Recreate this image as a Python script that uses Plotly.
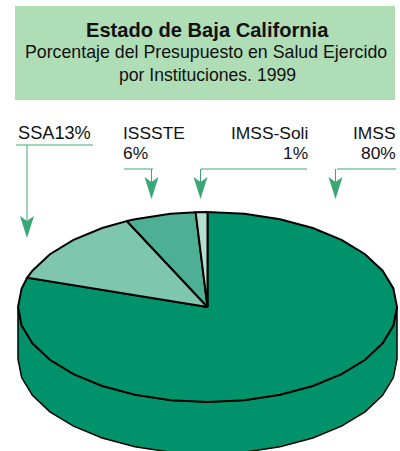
import math
import plotly.graph_objects as go

# Data
categories = ["IMSS", "SSA", "ISSSTE", "IMSS-Soli"]
values = [80, 13, 6, 1]
slice_colors = ["#00936B", "#7FC6AE", "#4DB094", "#B5DED0"]
title_lines = ["Estado de Baja California",
               "Porcentaje del Presupuesto en Salud Ejercido",
               "por Instituciones. 1999"]

# Geometry and style
W, H = 400, 451
CX, CY, RX, RY, DEPTH = 207.5, 307, 189.5, 95, 52
STEP = 11.25
FONT = "Liberation Sans, Arial, sans-serif"
LEADER = "#3AA874"
LABEL_SIZE = 17.4


def pt(t, dy=0):
    r = math.radians(t)
    return CX + RX * math.sin(r), CY - RY * math.cos(r) + dy


def arc(t0, t1, dy=0):
    ts = [t0]
    k = math.floor(t0 / STEP) + 1
    while k * STEP < t1 - 1e-6:
        ts.append(k * STEP)
        k += 1
    ts.append(t1)
    return [pt(t, dy) for t in ts]


fig = go.Figure()


def poly(points, fill, width, close=True):
    xs = [p[0] for p in points]
    ys = [p[1] for p in points]
    if close:
        xs.append(xs[0])
        ys.append(ys[0])
    fig.add_trace(go.Scatter(x=xs, y=ys, mode="lines",
                             fill="toself" if fill else "none",
                             fillcolor=fill, line=dict(color="black", width=width),
                             hoverinfo="skip", showlegend=False))


# Side wall of the disc (visible front half)
top_front = arc(90, 270)
bottom_front = arc(90, 270, DEPTH)
poly(top_front + bottom_front[::-1], slice_colors[0], 1.5)

# Top slices, clockwise from 12 o'clock
total = sum(values)
start = 0.0
for v, c in zip(values, slice_colors):
    end = start + 360.0 * v / total
    poly([(CX, CY)] + arc(start, end), c, 2)
    start = end

# Title banner
shapes = [dict(type="rect", x0=15, x1=395, y0=6, y1=100, xref="x", yref="y",
               fillcolor="#AEDDB6", line=dict(width=0), layer="below")]


# Leader lines and arrowheads
def leader(x0, x1, y, xv, tip):
    s = [dict(type="line", x0=x0, x1=x1, y0=y, y1=y),
         dict(type="line", x0=xv, x1=xv, y0=y, y1=tip - 10)]
    for d in s:
        d.update(xref="x", yref="y", line=dict(color=LEADER, width=1))
    head = (f"M {xv} {tip} L {xv - 7} {tip - 22} L {xv} {tip - 17} "
            f"L {xv + 7} {tip - 22} Z")
    s.append(dict(type="path", path=head, xref="x", yref="y",
                  fillcolor=LEADER, line=dict(width=0)))
    return s


shapes += leader(16, 93, 145, 27, 238)
shapes += leader(124, 153, 169, 151.5, 199)
shapes += leader(201, 307, 169, 200.5, 199)
shapes += leader(337, 396, 169, 335.5, 199)


def text(x, y, s, size, anchor="center", bold=False):
    return dict(x=x, y=y, xref="x", yref="y", text=f"<b>{s}</b>" if bold else s,
                showarrow=False, xanchor=anchor, yanchor="middle", borderpad=0,
                font=dict(family=FONT, size=size, color="#111111"))


annotations = [
    text(207, 30, title_lines[0], 20.1, bold=True),
    text(206, 52, title_lines[1], 17.75),
    text(207, 75, title_lines[2], 17.6),
    text(17, 133, categories[1] + f"{values[1]}%", 18.2, "left"),
    text(122, 133, categories[2], LABEL_SIZE, "left"),
    text(122, 153, f"{values[2]}%", LABEL_SIZE, "left"),
    text(309, 133, categories[3], LABEL_SIZE, "right"),
    text(309, 153, f"{values[3]}%", LABEL_SIZE, "right"),
    text(397, 133, categories[0], LABEL_SIZE, "right"),
    text(397, 153, f"{values[0]}%", LABEL_SIZE, "right"),
]

fig.update_layout(
    width=W, height=H, margin=dict(l=0, r=0, t=0, b=0),
    paper_bgcolor="white", plot_bgcolor="white",
    xaxis=dict(range=[0, W], visible=False, fixedrange=True),
    yaxis=dict(range=[H, 0], visible=False, fixedrange=True),
    shapes=shapes, annotations=annotations, showlegend=False,
)
fig.write_html("out.html", config=dict(displayModeBar=False),
               post_script="document.body.style.margin='0';document.body.style.overflow='hidden';")
